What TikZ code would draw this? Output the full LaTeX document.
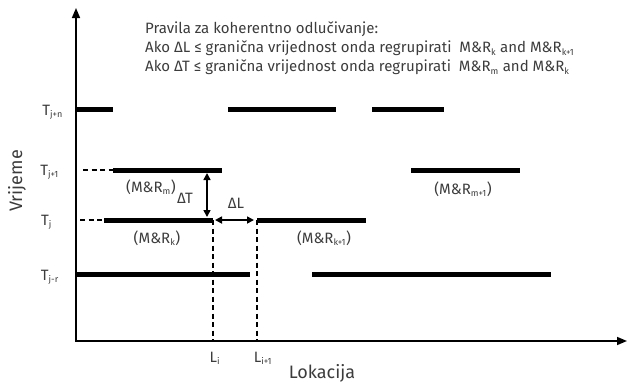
\documentclass[tikz,border=0pt]{standalone}
\usepackage{fontspec}
\setmainfont{Fira Sans}
\usetikzlibrary{positioning,arrows.meta}
\definecolor{txtgray}{HTML}{3C3C3C}

\tikzset{
	segment/.style={line width=5pt},
	guide/.style={line width=1.6pt, dash pattern=on 5pt off 3.5pt},
	axis/.style={line width=1.6pt, {Triangle[length=10pt,width=8pt]}-{Triangle[length=10pt,width=8pt]}},
	gap/.style={line width=1.6pt, {Triangle[length=7pt,width=7pt]}-{Triangle[length=7pt,width=7pt]}},
	lbl/.style={font=\fontsize{15}{17}\selectfont, text=txtgray, inner sep=1pt},
	tick/.style={lbl, anchor=east},
	axlbl/.style={font=\fontsize{18}{20}\selectfont, text=txtgray, inner sep=1pt}
}
\newcommand{\idx}[1]{\textsubscript{\fontsize{9}{9}\selectfont #1}}

\begin{document}
\begin{tikzpicture}[x=1pt,y=-1pt]
	\useasboundingbox (0,0) rectangle (627,384);

	% axes
	\coordinate (ytop) at (76,8);
	\coordinate (xend) at (627,341);
	\draw[axis] (ytop) |- (xend);
	\node[axlbl,rotate=90] (vrijeme) at (17,181) {Vrijeme};
	\node[axlbl]           (lokacija) at (322,373) {Lokacija};

	% time levels
	\node[tick] (tjn) at (64,112) {T\idx{j+n}};
	\node[tick] (tj1) at (60,172) {T\idx{j+1}};
	\node[tick] (tj)  at (53,222) {T\idx{j}};
	\node[tick] (tjr) at (60,277) {T\idx{j-r}};

	% segments
	\coordinate (a-w) at (76,109);   \coordinate (a-e) at (113,109);
	\coordinate (b-w) at (228,109);  \coordinate (b-e) at (336,109);
	\coordinate (c-w) at (372,109);  \coordinate (c-e) at (444,109);
	\coordinate (mrm-w) at (113,170); \coordinate (mrm-e) at (222,170);
	\coordinate (mrm1-w) at (411,170); \coordinate (mrm1-e) at (520,170);
	\coordinate (mrk-w) at (104,220); \coordinate (mrk-e) at (213,220);
	\coordinate (mrk1-w) at (257,220); \coordinate (mrk1-e) at (366,220);
	\coordinate (d-w) at (76,274);   \coordinate (d-e) at (250,274);
	\coordinate (e-w) at (312,274);  \coordinate (e-e) at (551,274);

	\foreach \s in {a,b,c,mrm,mrm1,mrk,mrk1,d,e}
		\draw[segment] (\s-w) -- (\s-e);

	\draw[guide] (83,170) -- (mrm-w);
	\draw[guide] (80,220) -- (mrk-w);

	% names of the segments
	\node[lbl] (mrm)  at (151,187) {(M\&R\idx{m})};
	\node[lbl] (mrm1) at (463,189) {(M\&R\idx{m+1})};
	\node[lbl] (mrk)  at (157,238) {(M\&R\idx{k})};
	\node[lbl] (mrk1) at (324,238) {(M\&R\idx{k+1})};

	% gaps
	\coordinate (dt-top) at (207,170);
	\coordinate (dt-bot) at (207,220);
	\draw[gap, shorten <=3pt, shorten >=3pt] (dt-top) -- (dt-bot);
	\node[lbl] (dt) at (185,198) {ΔT};
	\draw[gap, shorten <=2pt, shorten >=3pt] (mrk-e) -- (mrk1-w);
	\node[lbl] (dl) at (236,203) {ΔL};

	% locations
	\node[lbl] (li)  at (215,358) {L\idx{i}};
	\node[lbl] (li1) at (263,358) {L\idx{i+1}};
	\draw[guide] (mrk-e) -- (mrk-e |- xend);
	\draw[guide] (mrk1-w) -- (mrk1-w |- xend);

	% rules
	\node[lbl, anchor=north west, align=left, font=\fontsize{15}{19}\selectfont] (rules) at (144,21)
		{Pravila za koherentno odlučivanje:\\
		 Ako ΔL ≤ granična vrijednost onda regrupirati\ \ M\&R\idx{k} and M\&R\idx{k+1}\\
		 Ako ΔT ≤ granična vrijednost onda regrupirati\ \ M\&R\idx{m} and M\&R\idx{k}};
\end{tikzpicture}
\end{document}
